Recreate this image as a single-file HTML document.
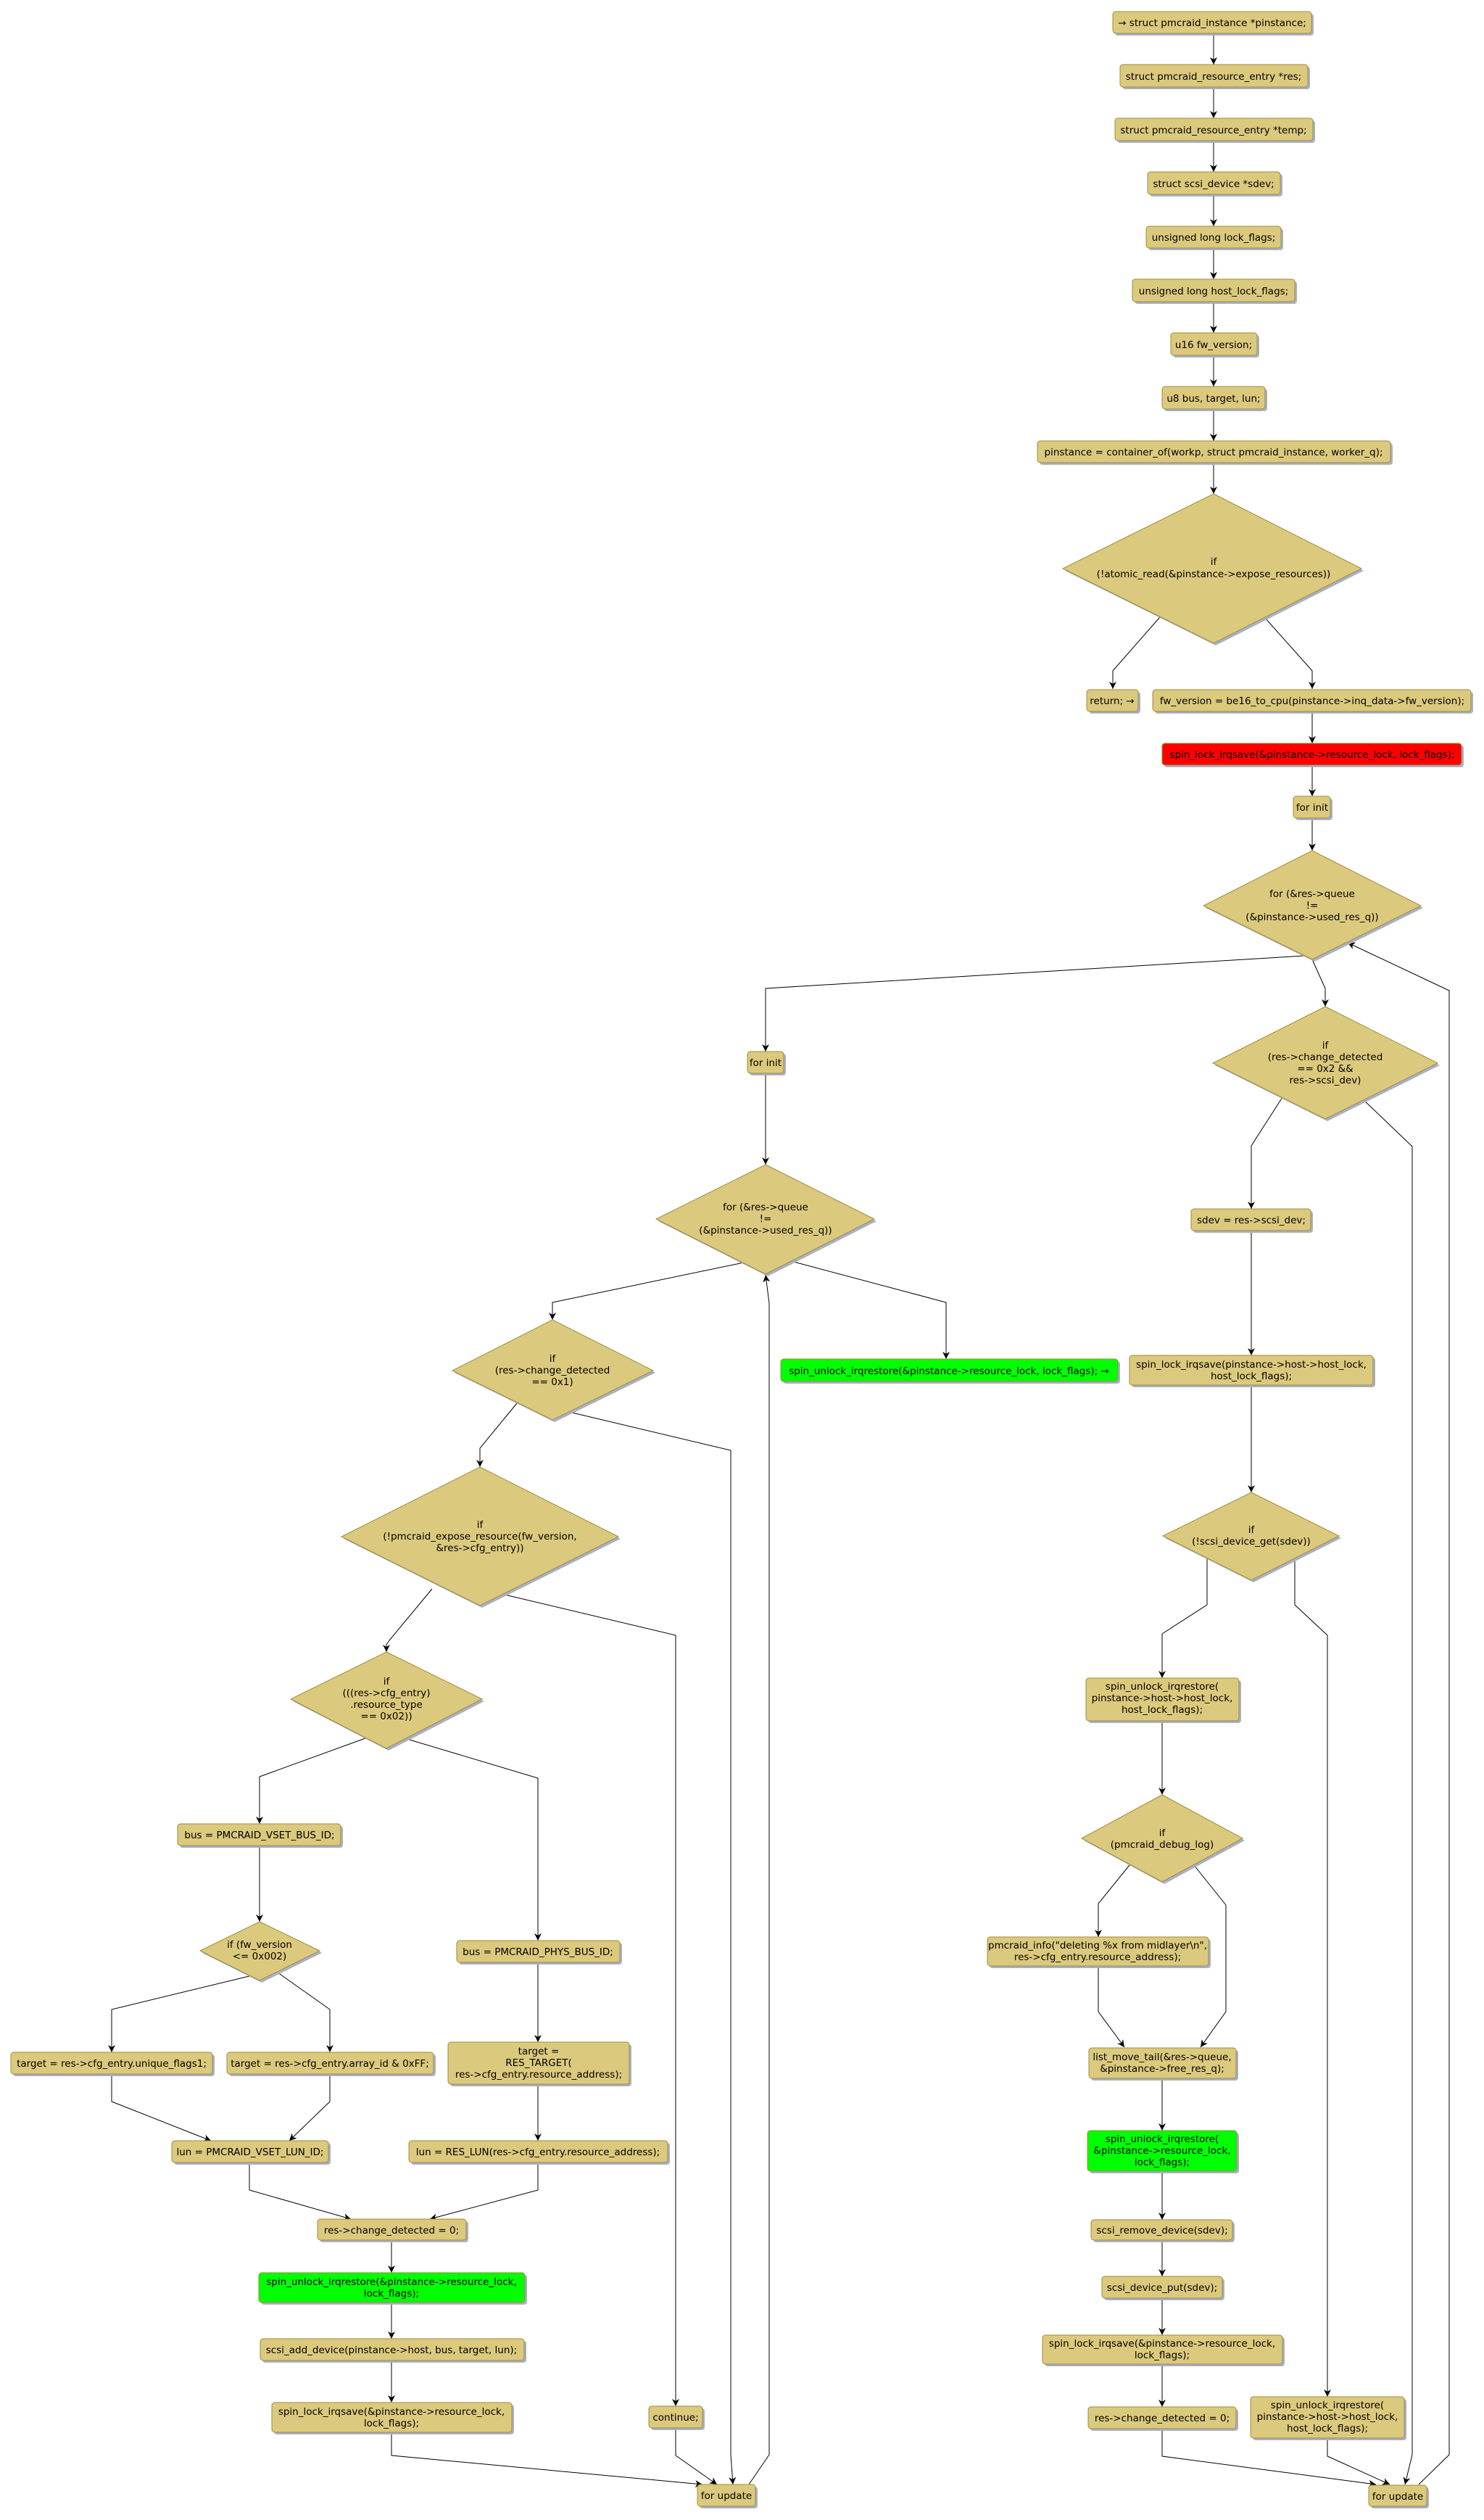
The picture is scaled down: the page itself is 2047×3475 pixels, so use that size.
<!DOCTYPE html>
<html><head><meta charset="utf-8"><style>
html,body{margin:0;padding:0;background:#fff}
svg{display:block}
text{font-family:"DejaVu Sans","Liberation Sans",sans-serif;font-size:13.5px;fill:#000;text-anchor:middle}
.b{fill:#dbc97d;stroke:#a08c3c;stroke-width:1}
.g{fill:#00ff00;stroke:#a08c3c;stroke-width:1}
.r{fill:#ff0000;stroke:#a08c3c;stroke-width:1}
.s{fill:#a8b0c8}
.l{fill:none;stroke:#000;stroke-width:1;marker-end:url(#a)}
.n{fill:none;stroke:#000;stroke-width:1}
</style></head><body>
<svg width="2047" height="3475" viewBox="0 0 2047 3475" xmlns="http://www.w3.org/2000/svg">
<defs><marker id="a" markerUnits="userSpaceOnUse" markerWidth="10" markerHeight="12" refX="10" refY="5" orient="auto"><path d="M0,0 L10,5 L0,10 L3,5 z" fill="#000"/></marker></defs>

<g>
<path class="l" d="M1674,46V89"/><path class="l" d="M1674,120V163"/><path class="l" d="M1674,194V237"/><path class="l" d="M1674,268V312"/>
<path class="l" d="M1674,342V385"/><path class="l" d="M1674,416V459"/><path class="l" d="M1674,490V533"/><path class="l" d="M1674,564V608"/>
<path class="l" d="M1674,638V681"/>
<path class="l" d="M1600,851L1535,925V950"/><path class="l" d="M1744,851L1810,925V950"/>
<path class="l" d="M1810,981V1025"/><path class="l" d="M1810,1055V1098"/><path class="l" d="M1810,1128V1173"/>
<path class="l" d="M1799,1318L1056,1363V1450"/>
<path class="l" d="M1810,1323L1828,1363V1388"/>
<path class="l" d="M1957,3426L1999,3385V1366L1859,1300"/>
<path class="l" d="M1769,1513L1726,1580V1667"/>
<path class="l" d="M1879,1515L1948,1581V3385L1938,3426"/>
<path class="l" d="M1726,1697V1869"/><path class="l" d="M1726,1910V2058"/>
<path class="l" d="M1665,2148V2213L1603,2253V2314"/>
<path class="l" d="M1786,2148V2213L1831,2255V3305"/>
<path class="l" d="M1603,2373V2475"/>
<path class="l" d="M1562,2567L1515,2625V2671"/>
<path class="l" d="M1643,2567L1691,2627V2774L1656,2823"/>
<path class="l" d="M1515,2711V2774L1551,2823"/>
<path class="l" d="M1603,2866V2938"/><path class="l" d="M1603,2994V3061"/><path class="l" d="M1603,3089V3139"/>
<path class="l" d="M1603,3169V3220"/><path class="l" d="M1603,3260V3319"/>
<path class="l" d="M1603,3349V3387L1898,3426"/>
<path class="l" d="M1831,3362V3387L1917,3426"/>

<path class="l" d="M1056,1480V1606"/>
<path class="l" d="M1026,1741L762,1796V1820"/>
<path class="l" d="M1091,1739L1305,1796V1874"/>
<path class="l" d="M1033,3426L1061,3385V1797L1056,1758"/>
<path class="l" d="M713,1935L662,1997V2023"/>
<path class="l" d="M785,1947L1008,2000V3385L1011,3426"/>
<path class="l" d="M692,2198L932,2255V3318"/>
<path class="l" d="M596,2191L537,2262L533,2268V2278"/>
<path class="l" d="M504,2397L358,2450V2515"/>
<path class="l" d="M558,2397L742,2452V2676"/>
<path class="l" d="M358,2545V2650"/>
<path class="l" d="M344,2725L154,2771V2830"/>
<path class="l" d="M383,2720L455,2771V2830"/>
<path class="l" d="M154,2860V2898L291,2952"/>
<path class="l" d="M455,2860V2898L399,2952"/>
<path class="l" d="M742,2706V2816"/><path class="l" d="M742,2874V2952"/>
<path class="l" d="M344,2982V3020L484,3060"/>
<path class="l" d="M742,2982V3020L593,3060"/>
<path class="l" d="M540,3089V3134"/><path class="l" d="M540,3175V3225"/><path class="l" d="M540,3255V3313"/>
<path class="l" d="M540,3354V3386L969,3426"/>
<path class="l" d="M932,3348V3386L989,3426"/>
</g>

<g>
<polygon class="s" points="1677,684 1881,787 1677,890 1469,787"/>
<polygon class="b" points="1674,681 1878,784 1674,887 1466,784"/>
<text x="1674" y="779">if</text><text x="1674" y="796">(!atomic_read(&amp;pinstance-&gt;expose_resources))</text>

<polygon class="s" points="1813,1176 1963,1252 1813,1326 1663,1252"/>
<polygon class="b" points="1810,1173 1960,1249 1810,1323 1660,1249"/>
<text x="1810" y="1237">for (&amp;res-&gt;queue</text><text x="1810" y="1253">!=</text><text x="1810" y="1269">(&amp;pinstance-&gt;used_res_q))</text>

<polygon class="s" points="1831,1391 1986,1469 1831,1546 1676,1469"/>
<polygon class="b" points="1828,1388 1983,1466 1828,1543 1673,1466"/>
<text x="1828" y="1446">if</text><text x="1828" y="1462">(res-&gt;change_detected</text><text x="1828" y="1478">== 0x2 &amp;&amp;</text><text x="1828" y="1494">res-&gt;scsi_dev)</text>

<polygon class="s" points="1729,2061 1850,2121 1729,2182 1607,2121"/>
<polygon class="b" points="1726,2058 1847,2118 1726,2179 1604,2118"/>
<text x="1726" y="2114">if</text><text x="1726" y="2130">(!scsi_device_get(sdev))</text>

<polygon class="s" points="1606,2478 1717,2538 1606,2598 1495,2538"/>
<polygon class="b" points="1603,2475 1714,2535 1603,2595 1492,2535"/>
<text x="1603" y="2532">if</text><text x="1603" y="2548">(pmcraid_debug_log)</text>

<polygon class="s" points="1059,1609 1209,1684 1059,1760 908,1684"/>
<polygon class="b" points="1056,1606 1206,1681 1056,1757 905,1681"/>
<text x="1056" y="1669">for (&amp;res-&gt;queue</text><text x="1056" y="1685">!=</text><text x="1056" y="1701">(&amp;pinstance-&gt;used_res_q))</text>

<polygon class="s" points="765,1823 904,1893 765,1961 627,1893"/>
<polygon class="b" points="762,1820 901,1890 762,1958 624,1890"/>
<text x="762" y="1878">if</text><text x="762" y="1894">(res-&gt;change_detected</text><text x="762" y="1910">== 0x1)</text>

<polygon class="s" points="665,2026 856,2122 665,2217 474,2122"/>
<polygon class="b" points="662,2023 853,2119 662,2214 471,2119"/>
<text x="662" y="2107">if</text><text x="662" y="2123">(!pmcraid_expose_resource(fw_version,</text><text x="662" y="2139">&amp;res-&gt;cfg_entry))</text>

<polygon class="s" points="536,2281 668,2346 536,2414 404,2346"/>
<polygon class="b" points="533,2278 665,2343 533,2411 401,2343"/>
<text x="533" y="2323">if</text><text x="533" y="2339">(((res-&gt;cfg_entry)</text><text x="533" y="2355">.resource_type</text><text x="533" y="2371">== 0x02))</text>

<polygon class="s" points="361,2653 444,2693 361,2734 279,2693"/>
<polygon class="b" points="358,2650 441,2690 358,2731 276,2690"/>
<text x="358" y="2686">if (fw_version</text><text x="358" y="2702">&lt;= 0x002)</text>
</g>

<g>
<rect class="s" x="1538" y="19" width="274" height="30" rx="4"/><rect class="b" x="1535" y="16" width="274" height="30" rx="4"/><text x="1672" y="36">→ struct pmcraid_instance *pinstance;</text>
<rect class="s" x="1548" y="92" width="259" height="31" rx="4"/><rect class="b" x="1545" y="89" width="259" height="31" rx="4"/><text x="1674" y="110">struct pmcraid_resource_entry *res;</text>
<rect class="s" x="1541" y="166" width="273" height="31" rx="4"/><rect class="b" x="1538" y="163" width="273" height="31" rx="4"/><text x="1674" y="184">struct pmcraid_resource_entry *temp;</text>
<rect class="s" x="1586" y="240" width="183" height="31" rx="4"/><rect class="b" x="1583" y="237" width="183" height="31" rx="4"/><text x="1674" y="258">struct scsi_device *sdev;</text>
<rect class="s" x="1584" y="315" width="186" height="30" rx="4"/><rect class="b" x="1581" y="312" width="186" height="30" rx="4"/><text x="1674" y="332">unsigned long lock_flags;</text>
<rect class="s" x="1565" y="388" width="224" height="31" rx="4"/><rect class="b" x="1562" y="385" width="224" height="31" rx="4"/><text x="1674" y="406">unsigned long host_lock_flags;</text>
<rect class="s" x="1618" y="462" width="119" height="31" rx="4"/><rect class="b" x="1615" y="459" width="119" height="31" rx="4"/><text x="1674" y="480">u16 fw_version;</text>
<rect class="s" x="1606" y="536" width="142" height="31" rx="4"/><rect class="b" x="1603" y="533" width="142" height="31" rx="4"/><text x="1674" y="554">u8 bus, target, lun;</text>
<rect class="s" x="1434" y="611" width="487" height="30" rx="4"/><rect class="b" x="1431" y="608" width="487" height="30" rx="4"/><text x="1674" y="628">pinstance = container_of(workp, struct pmcraid_instance, worker_q);</text>

<rect class="s" x="1502" y="954" width="71" height="30" rx="4"/><rect class="b" x="1499" y="951" width="71" height="30" rx="4"/><text x="1534" y="971">return; →</text>
<rect class="s" x="1593" y="954" width="439" height="30" rx="4"/><rect class="b" x="1590" y="951" width="439" height="30" rx="4"/><text x="1810" y="971">fw_version = be16_to_cpu(pinstance-&gt;inq_data-&gt;fw_version);</text>
<rect class="s" x="1606" y="1028" width="413" height="30" rx="4"/><rect class="r" x="1603" y="1025" width="413" height="30" rx="4"/><text x="1810" y="1045">spin_lock_irqsave(&amp;pinstance-&gt;resource_lock, lock_flags);</text>
<rect class="s" x="1787" y="1101" width="51" height="30" rx="4"/><rect class="b" x="1784" y="1098" width="51" height="30" rx="4"/><text x="1810" y="1118">for init</text>

<rect class="s" x="1646" y="1670" width="165" height="30" rx="4"/><rect class="b" x="1643" y="1667" width="165" height="30" rx="4"/><text x="1726" y="1687">sdev = res-&gt;scsi_dev;</text>
<rect class="s" x="1561" y="1872" width="336" height="41" rx="4"/><rect class="b" x="1558" y="1869" width="336" height="41" rx="4"/><text x="1726" y="1886">spin_lock_irqsave(pinstance-&gt;host-&gt;host_lock,</text><text x="1726" y="1902">host_lock_flags);</text>
<rect class="s" x="1501" y="2317" width="211" height="59" rx="4"/><rect class="b" x="1498" y="2314" width="211" height="59" rx="4"/><text x="1603" y="2330">spin_unlock_irqrestore(</text><text x="1603" y="2346">pinstance-&gt;host-&gt;host_lock,</text><text x="1603" y="2362">host_lock_flags);</text>
<rect class="s" x="1365" y="2674" width="305" height="40" rx="4"/><rect class="b" x="1362" y="2671" width="305" height="40" rx="4"/><text x="1514" y="2687">pmcraid_info("deleting %x from midlayer\n",</text><text x="1514" y="2703">res-&gt;cfg_entry.resource_address);</text>
<rect class="s" x="1505" y="2827" width="203" height="42" rx="4"/><rect class="b" x="1502" y="2824" width="203" height="42" rx="4"/><text x="1603" y="2841">list_move_tail(&amp;res-&gt;queue,</text><text x="1603" y="2857">&amp;pinstance-&gt;free_res_q);</text>
<rect class="s" x="1503" y="2941" width="206" height="56" rx="4"/><rect class="g" x="1500" y="2938" width="206" height="56" rx="4"/><text x="1603" y="2954">spin_unlock_irqrestore(</text><text x="1603" y="2970">&amp;pinstance-&gt;resource_lock,</text><text x="1603" y="2986">lock_flags);</text>
<rect class="s" x="1508" y="3064" width="195" height="28" rx="4"/><rect class="b" x="1505" y="3061" width="195" height="28" rx="4"/><text x="1603" y="3080">scsi_remove_device(sdev);</text>
<rect class="s" x="1523" y="3142" width="166" height="30" rx="4"/><rect class="b" x="1520" y="3139" width="166" height="30" rx="4"/><text x="1603" y="3159">scsi_device_put(sdev);</text>
<rect class="s" x="1441" y="3223" width="331" height="40" rx="4"/><rect class="b" x="1438" y="3220" width="331" height="40" rx="4"/><text x="1603" y="3236">spin_lock_irqsave(&amp;pinstance-&gt;resource_lock,</text><text x="1603" y="3252">lock_flags);</text>
<rect class="s" x="1504" y="3322" width="204" height="30" rx="4"/><rect class="b" x="1501" y="3319" width="204" height="30" rx="4"/><text x="1603" y="3339">res-&gt;change_detected = 0;</text>
<rect class="s" x="1728" y="3308" width="212" height="57" rx="4"/><rect class="b" x="1725" y="3305" width="212" height="57" rx="4"/><text x="1831" y="3321">spin_unlock_irqrestore(</text><text x="1831" y="3337">pinstance-&gt;host-&gt;host_lock,</text><text x="1831" y="3353">host_lock_flags);</text>
<rect class="s" x="1891" y="3430" width="80" height="29" rx="4"/><rect class="b" x="1888" y="3427" width="80" height="29" rx="4"/><text x="1928" y="3447">for update</text>

<rect class="s" x="1034" y="1453" width="50" height="30" rx="4"/><rect class="b" x="1031" y="1450" width="50" height="30" rx="4"/><text x="1056" y="1470">for init</text>
<rect class="s" x="1080" y="1877" width="465" height="31" rx="4"/><rect class="g" x="1077" y="1874" width="465" height="31" rx="4"/><text x="1309" y="1895">spin_unlock_irqrestore(&amp;pinstance-&gt;resource_lock, lock_flags); →</text>
<rect class="s" x="248" y="2518" width="225" height="30" rx="4"/><rect class="b" x="245" y="2515" width="225" height="30" rx="4"/><text x="358" y="2535">bus = PMCRAID_VSET_BUS_ID;</text>
<rect class="s" x="18" y="2833" width="278" height="30" rx="4"/><rect class="b" x="15" y="2830" width="278" height="30" rx="4"/><text x="154" y="2850">target = res-&gt;cfg_entry.unique_flags1;</text>
<rect class="s" x="316" y="2833" width="285" height="30" rx="4"/><rect class="b" x="313" y="2830" width="285" height="30" rx="4"/><text x="455" y="2850">target = res-&gt;cfg_entry.array_id &amp; 0xFF;</text>
<rect class="s" x="240" y="2955" width="216" height="30" rx="4"/><rect class="b" x="237" y="2952" width="216" height="30" rx="4"/><text x="345" y="2972">lun = PMCRAID_VSET_LUN_ID;</text>
<rect class="s" x="633" y="2679" width="225" height="30" rx="4"/><rect class="b" x="630" y="2676" width="225" height="30" rx="4"/><text x="742" y="2696">bus = PMCRAID_PHYS_BUS_ID;</text>
<rect class="s" x="621" y="2819" width="250" height="58" rx="4"/><rect class="b" x="618" y="2816" width="250" height="58" rx="4"/><text x="743" y="2833">target =</text><text x="743" y="2849">RES_TARGET(</text><text x="743" y="2865">res-&gt;cfg_entry.resource_address);</text>
<rect class="s" x="567" y="2955" width="357" height="30" rx="4"/><rect class="b" x="564" y="2952" width="357" height="30" rx="4"/><text x="742" y="2972">lun = RES_LUN(res-&gt;cfg_entry.resource_address);</text>
<rect class="s" x="441" y="3063" width="205" height="29" rx="4"/><rect class="b" x="438" y="3060" width="205" height="29" rx="4"/><text x="540" y="3080">res-&gt;change_detected = 0;</text>
<rect class="s" x="360" y="3137" width="367" height="41" rx="4"/><rect class="g" x="357" y="3134" width="367" height="41" rx="4"/><text x="540" y="3151">spin_unlock_irqrestore(&amp;pinstance-&gt;resource_lock,</text><text x="540" y="3167">lock_flags);</text>
<rect class="s" x="362" y="3228" width="364" height="30" rx="4"/><rect class="b" x="359" y="3225" width="364" height="30" rx="4"/><text x="540" y="3245">scsi_add_device(pinstance-&gt;host, bus, target, lun);</text>
<rect class="s" x="378" y="3316" width="331" height="41" rx="4"/><rect class="b" x="375" y="3313" width="331" height="41" rx="4"/><text x="540" y="3330">spin_lock_irqsave(&amp;pinstance-&gt;resource_lock,</text><text x="540" y="3346">lock_flags);</text>
<rect class="s" x="898" y="3321" width="74" height="30" rx="4"/><rect class="b" x="895" y="3318" width="74" height="30" rx="4"/><text x="932" y="3338">continue;</text>
<rect class="s" x="965" y="3429" width="80" height="30" rx="4"/><rect class="b" x="962" y="3426" width="80" height="30" rx="4"/><text x="1002" y="3446">for update</text>
</g>
</svg>
</body></html>
